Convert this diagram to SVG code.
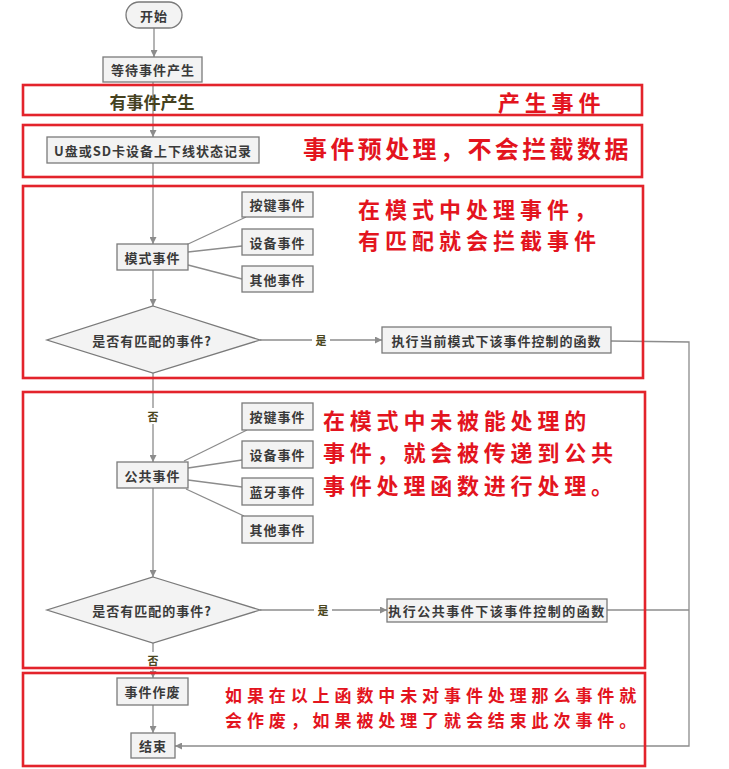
<svg xmlns="http://www.w3.org/2000/svg" width="729" height="769" viewBox="0 0 729 769">
<defs>
<style>
.node{fill:#f3f3f3;stroke:#7a7a7a;stroke-width:1.3}
.nt{font-family:"Noto Sans CJK SC","Liberation Sans",sans-serif;font-size:13px;font-weight:bold;fill:#3a3a3a;text-anchor:middle;dominant-baseline:central;letter-spacing:1px}
.lbl{font-family:"Noto Sans CJK SC","Liberation Sans",sans-serif;font-size:11px;font-weight:bold;fill:#4a4620;text-anchor:middle;dominant-baseline:central}
.conn{fill:none;stroke:#8c8c8c;stroke-width:1.3}
.red{fill:none;stroke:#e3232b;stroke-width:2.6}
.rt{font-family:"Noto Sans CJK SC",serif;font-weight:bold;fill:#e3141e;dominant-baseline:central}
</style>
<marker id="arr" viewBox="0 0 10 10" refX="10" refY="5" markerWidth="7" markerHeight="7" orient="auto" markerUnits="userSpaceOnUse">
<path d="M0,0 L10,5 L0,10 z" fill="#8c8c8c"/>
</marker>
</defs>
<rect width="729" height="769" fill="#ffffff"/>

<g id="connectors">
<line class="conn" x1="154" y1="28" x2="154" y2="57" marker-end="url(#arr)"/>
<line class="conn" x1="153" y1="82" x2="153" y2="137" marker-end="url(#arr)"/>
<line class="conn" x1="153" y1="163" x2="153" y2="244" marker-end="url(#arr)"/>
<line class="conn" x1="153" y1="270" x2="153" y2="306" marker-end="url(#arr)"/>
<line class="conn" x1="153" y1="373" x2="153" y2="462" marker-end="url(#arr)"/>
<line class="conn" x1="153" y1="488" x2="153" y2="577" marker-end="url(#arr)"/>
<line class="conn" x1="153" y1="643" x2="153" y2="678" marker-end="url(#arr)"/>
<line class="conn" x1="153" y1="705" x2="153" y2="733" marker-end="url(#arr)"/>
<line class="conn" x1="260" y1="340" x2="382" y2="340" marker-end="url(#arr)"/>
<line class="conn" x1="260" y1="610" x2="387" y2="610" marker-end="url(#arr)"/>
<polyline class="conn" points="611,341 689,342 689,746 175,746" marker-end="url(#arr)"/>
<line class="conn" x1="607" y1="610" x2="689" y2="610"/>
<line class="conn" x1="186" y1="245" x2="246" y2="217"/>
<line class="conn" x1="188" y1="252" x2="242" y2="246"/>
<line class="conn" x1="188" y1="265" x2="242" y2="279"/>
<line class="conn" x1="184" y1="461" x2="247" y2="430"/>
<line class="conn" x1="188" y1="468" x2="242" y2="460"/>
<line class="conn" x1="188" y1="480" x2="242" y2="487"/>
<line class="conn" x1="186" y1="489" x2="244" y2="516"/>
<rect x="312" y="333" width="18" height="14" fill="#ffffff"/>
<text class="lbl" x="321" y="340" font-size="10">是</text>
<rect x="314" y="603" width="18" height="14" fill="#ffffff"/>
<text class="lbl" x="323" y="610" font-size="10">是</text>
<rect x="145" y="408" width="16" height="16" fill="#ffffff"/>
<text class="lbl" x="153" y="416">否</text>
<rect x="145" y="652" width="16" height="16" fill="#ffffff"/>
<text class="lbl" x="153" y="660">否</text>
</g>

<g id="start"><rect class="node" x="126" y="2" width="56" height="26" rx="13"/><text class="nt" x="154" y="15">开始</text></g>
<g id="wait"><rect class="node" x="103" y="57" width="99" height="25"/><text class="nt" x="153" y="69.5">等待事件产生</text></g>
<g id="record"><rect class="node" x="47" y="137" width="212" height="26"/><text class="nt" x="153" y="150">U盘或SD卡设备上下线状态记录</text></g>
<g id="mode"><rect class="node" x="117" y="244" width="71" height="26"/><text class="nt" x="152.5" y="257">模式事件</text></g>
<g id="key1"><rect class="node" x="242" y="192" width="71" height="25"/><text class="nt" x="277.5" y="204.5">按键事件</text></g>
<g id="dev1"><rect class="node" x="242" y="229" width="71" height="26"/><text class="nt" x="277.5" y="242">设备事件</text></g>
<g id="other1"><rect class="node" x="242" y="266" width="71" height="26"/><text class="nt" x="277.5" y="279">其他事件</text></g>
<g id="dec1"><polygon class="node" points="153,306 260,340 153,373 47,340"/><text class="nt" x="152" y="340">是否有匹配的事件?</text></g>
<g id="exec1"><rect class="node" x="382" y="327" width="229" height="26"/><text class="nt" x="496.5" y="340">执行当前模式下该事件控制的函数</text></g>
<g id="common"><rect class="node" x="117" y="462" width="71" height="26"/><text class="nt" x="152.5" y="475">公共事件</text></g>
<g id="key2"><rect class="node" x="242" y="403" width="71" height="27"/><text class="nt" x="277.5" y="416.5">按键事件</text></g>
<g id="dev2"><rect class="node" x="242" y="441" width="71" height="27"/><text class="nt" x="277.5" y="454.5">设备事件</text></g>
<g id="bt2"><rect class="node" x="242" y="478" width="71" height="27"/><text class="nt" x="277.5" y="491.5">蓝牙事件</text></g>
<g id="other2"><rect class="node" x="242" y="516" width="71" height="27"/><text class="nt" x="277.5" y="529.5">其他事件</text></g>
<g id="dec2"><polygon class="node" points="153,577 260,610 153,643 47,610"/><text class="nt" x="152" y="610">是否有匹配的事件?</text></g>
<g id="exec2"><rect class="node" x="387" y="599" width="220" height="23"/><text class="nt" x="497" y="610.5" font-size="12" style="letter-spacing:1.5px">执行公共事件下该事件控制的函数</text></g>
<g id="discard"><rect class="node" x="117" y="678" width="71" height="27"/><text class="nt" x="152.5" y="691.5">事件作废</text></g>
<g id="end"><rect class="node" x="131" y="733" width="44" height="25"/><text class="nt" x="153" y="745.5">结束</text></g>

<g id="annotations">
<rect class="red" x="23" y="85" width="619" height="30"/>
<rect class="red" x="23" y="125" width="619" height="52"/>
<rect class="red" x="23" y="186" width="620" height="192"/>
<rect class="red" x="23" y="392" width="622" height="276"/>
<rect class="red" x="23" y="673" width="622" height="93"/>
<text x="152" y="101" text-anchor="middle" dominant-baseline="central" font-family="'Noto Sans CJK SC',serif" font-size="17" font-weight="bold" fill="#45421f">有事件产生</text>
<text class="rt" x="498" y="101" font-size="22" letter-spacing="4.8">产生事件</text>
<text class="rt" x="303" y="147" font-size="24" letter-spacing="3.4">事件预处理，不会拦截数据</text>
<text class="rt" x="358" y="208" font-size="22" letter-spacing="5">在模式中处理事件，</text>
<text class="rt" x="358" y="239" font-size="22" letter-spacing="5">有匹配就会拦截事件</text>
<text class="rt" x="323" y="419" font-size="22" letter-spacing="4.8">在模式中未被能处理的</text>
<text class="rt" x="323" y="451" font-size="22" letter-spacing="4.8">事件，就会被传递到公共</text>
<text class="rt" x="323" y="484" font-size="22" letter-spacing="4.8">事件处理函数进行处理。</text>
<text class="rt" x="225" y="694" font-size="17" letter-spacing="4.9">如果在以上函数中未对事件处理那么事件就</text>
<text class="rt" x="225" y="719" font-size="17" letter-spacing="4.9">会作废，如果被处理了就会结束此次事件。</text>
</g>
</svg>
